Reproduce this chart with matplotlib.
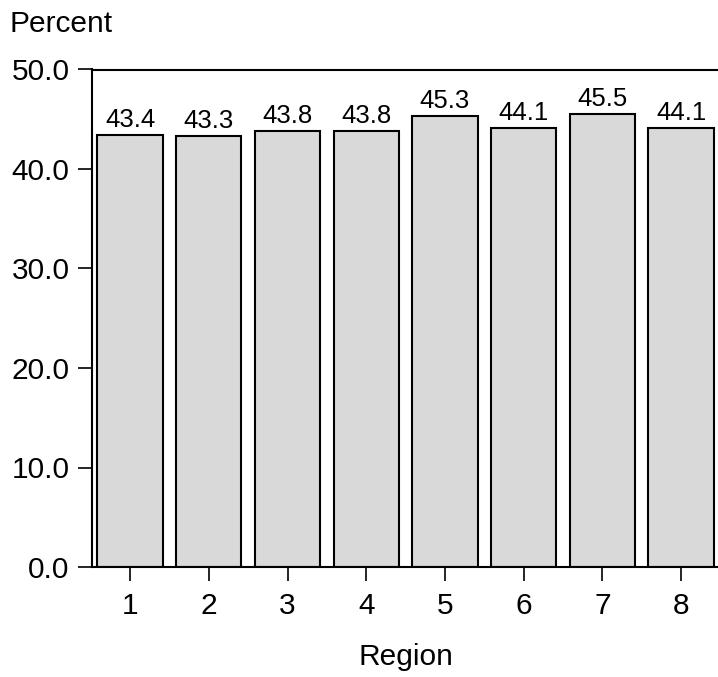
import matplotlib
matplotlib.use("Agg")
import matplotlib.pyplot as plt

regions = ["1", "2", "3", "4", "5", "6", "7", "8"]
percent = [43.4, 43.3, 43.8, 43.8, 45.3, 44.1, 45.5, 44.1]
y_ticks = [0, 10, 20, 30, 40, 50]
y_tick_labels = ["0.0", "10.0", "20.0", "30.0", "40.0", "50.0"]

plt.rcParams["font.family"] = ["Liberation Sans", "DejaVu Sans"]

W, H = 718, 677
fig = plt.figure(figsize=(W / 100, H / 100), dpi=100)
left, right = 91.7 / W, 719.5 / W
bottom, top = 1 - 567 / H, 1 - 69.5 / H
ax = fig.add_axes([left, bottom, right - left, top - bottom])

x = list(range(1, len(regions) + 1))
ax.bar(x, percent, width=0.83, color="#d9d9d9", edgecolor="black",
       linewidth=1.5, zorder=2)
for xi, v in zip(x, percent):
    ax.annotate(f"{v:.1f}", (xi, v), xytext=(0, 5.8), textcoords="offset points",
                ha="center", va="baseline", fontsize=18.5)

ax.set_xlim(0.513, 8.487)
ax.set_ylim(0, 50)
ax.set_xticks(x)
ax.set_xticklabels(regions)
ax.set_yticks(y_ticks)
ax.set_yticklabels(y_tick_labels)
ax.tick_params(axis="both", labelsize=21.5, length=10, width=1.2, direction="out")
ax.tick_params(axis="x", pad=8)
ax.tick_params(axis="y", pad=6)
for s in ax.spines.values():
    s.set_linewidth(1.5)

ax.set_xlabel("Region", fontsize=21.5)
ax.xaxis.set_label_coords(0.5, 0, transform=None)
fig.text(0.5 * (left + right), 1 - 665 / H, "Region", fontsize=21.5,
         ha="center", va="baseline")
ax.set_xlabel("")
fig.text(10 / W, 1 - 32 / H, "Percent", fontsize=21.5, ha="left", va="baseline")

fig.savefig("out.png", dpi=100)
